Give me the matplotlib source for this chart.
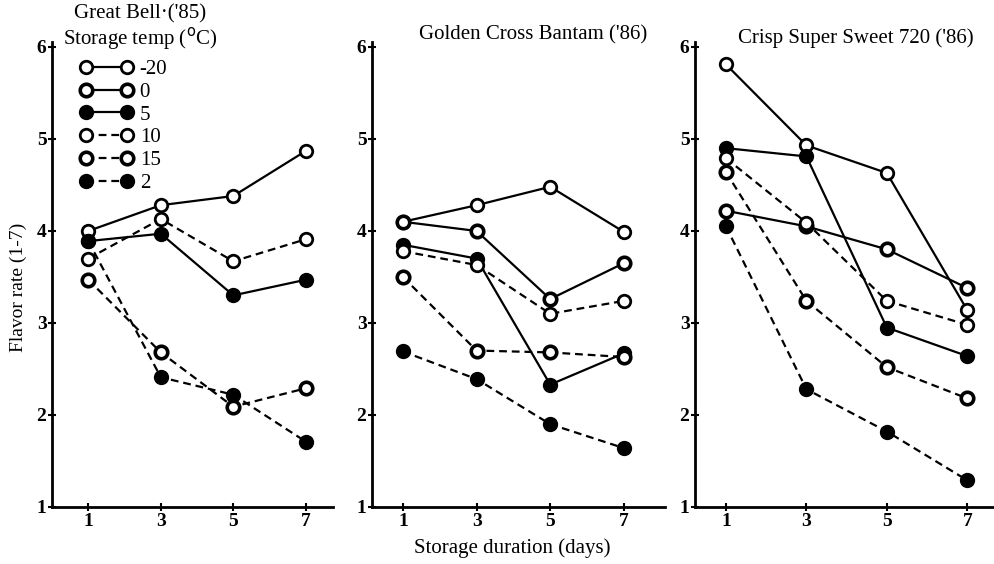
import matplotlib.pyplot as plt
from matplotlib.lines import Line2D

plt.rcParams['font.family'] = ['Liberation Serif', 'DejaVu Serif']

days = [1, 3, 5, 7]
temps = ['-20', '0', '5', '10', '15', '2']

# Great Bell ('85) - no 0 deg series
bell = {
    '-20': [4.00, 4.28, 4.38, 4.87],
    '5':   [3.89, 3.97, 3.30, 3.47],
    '10':  [3.70, 4.13, 3.67, 3.91],
    '15':  [3.47, 2.68, 2.09, 2.29],
    '2':   [3.89, 2.41, 2.22, 1.71],
}
# Golden Cross Bantam ('86)
bantam = {
    '-20': [4.10, 4.28, 4.48, 3.99],
    '0':   [4.10, 4.00, 3.26, 3.65],
    '5':   [3.85, 3.70, 2.33, 2.67],
    '10':  [3.78, 3.63, 3.10, 3.24],
    '15':  [3.50, 2.70, 2.68, 2.63],
    '2':   [2.69, 2.39, 1.90, 1.64],
}
# Crisp Super Sweet 720 ('86)
crisp = {
    '-20': [5.81, 4.93, 4.63, 3.14],
    '0':   [4.22, 4.05, 3.80, 3.38],
    '5':   [4.90, 4.81, 2.95, 2.64],
    '10':  [4.79, 4.09, 3.24, 2.98],
    '15':  [4.64, 3.24, 2.52, 2.18],
    '2':   [4.05, 2.28, 1.82, 1.29],
}

dash = (0, (3.5, 2.2))
styles = {
    '-20': dict(ls='-', mfc='white', mew=2.0),
    '0':   dict(ls='-', mfc='white', mew=2.6),
    '5':   dict(ls='-', mfc='black', mew=2.0),
    '10':  dict(ls=dash, mfc='white', mew=2.0),
    '15':  dict(ls=dash, mfc='white', mew=2.6),
    '2':   dict(ls=dash, mfc='black', mew=2.0),
}

fig = plt.figure(figsize=(9.95, 5.64), dpi=100)
bottom, height = 0.1011, 0.8238
ax1 = fig.add_axes([0.0523, bottom, 0.2824, height])
ax2 = fig.add_axes([0.3739, bottom, 0.2945, height])
ax3 = fig.add_axes([0.6985, bottom, 0.3015, height])

panels = [(ax1, bell, (0.0, 7.75)), (ax2, bantam, (0.16, 8.12)), (ax3, crisp, (0.23, 7.69))]

for ax, data, xl in panels:
    for t in temps:
        if t not in data:
            continue
        s = styles[t]
        ax.plot(days, data[t], color='black', lw=1.6, ls=s['ls'], marker='o',
                ms=9, mfc=s['mfc'], mec='black', mew=s['mew'])
    ax.set_xlim(*xl)
    ax.set_ylim(1, 6.05)
    ax.set_xticks(days)
    ax.set_yticks([1, 2, 3, 4, 5, 6])
    ax.spines['top'].set_visible(False)
    ax.spines['right'].set_visible(False)
    ax.spines['left'].set_linewidth(2)
    ax.spines['bottom'].set_linewidth(2)
    ax.tick_params(direction='inout', length=6, width=1.5, labelsize=14, pad=1)
    for lab in ax.get_xticklabels() + ax.get_yticklabels():
        lab.set_fontweight('bold')

handles = []
for t in temps:
    s = styles[t]
    handles.append(Line2D([], [], color='black', lw=1.6, ls=s['ls'], marker='o', ms=9,
                          mfc=s['mfc'], mec='black', mew=s['mew']))
leg = ax1.legend(handles, temps, loc='upper left', bbox_to_anchor=(0.06, 0.985), frameon=False,
                 numpoints=2, handlelength=2.6, handletextpad=0.3, labelspacing=0.15, fontsize=15,
                 borderpad=0)

fig.text(0.141, 0.975, "Great Bell\u00b7('85)", ha='center', va='center', fontsize=15)
fig.text(0.141, 0.931, "Storage temp ($^{\\mathrm{o}}$C)", ha='center', va='center', fontsize=15)
fig.text(0.536, 0.938, "Golden Cross Bantam ('86)", ha='center', va='center', fontsize=15)
fig.text(0.860, 0.933, "Crisp Super Sweet 720 ('86)", ha='center', va='center', fontsize=15)
fig.text(0.018, 0.49, "Flavor rate (1-7)", rotation=90, ha='center', va='center', fontsize=14)
fig.text(0.515, 0.028, "Storage duration (days)", ha='center', va='center', fontsize=15)

fig.savefig('out.png', dpi=100)
